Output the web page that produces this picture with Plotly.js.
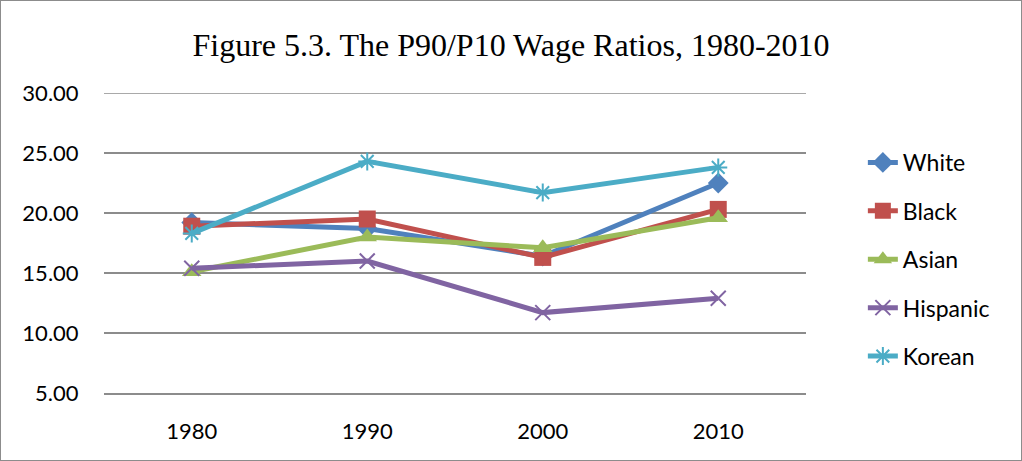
<!DOCTYPE html>
<html><head><meta charset="utf-8">
<script src="https://cdn.plot.ly/plotly-3.0.1.min.js"></script>
<style>html,body{margin:0;padding:0;background:#fff}
#wrap{width:1022px;height:461px;box-sizing:border-box;border:1px solid #8c8c8c;}
#chart{width:1020px;height:459px;}</style>
</head><body><div id="wrap"><div id="chart"></div></div>
<script>
const years = ["1980","1990","2000","2010"];
const white = [19.2, 18.7, 16.4, 22.5];
const black = [18.9, 19.5, 16.3, 20.3];
const asian = [15.1, 18.0, 17.1, 19.6];
const hispanic = [15.4, 16.0, 11.7, 12.9];
const korean = [18.3, 24.3, 21.7, 23.8];
const yMax = 30;

function tr(name, y, color, symbol, size, open, grp){
  return {x: years, y: y, name: name, type:'scatter', mode:'lines+markers',
    legendgroup: grp,
    line:{color:color, width:5},
    marker: open ? {symbol:symbol, size:size, color:color, line:{color:color, width:2}}
                 : {symbol:symbol, size:size, color:color}};
}
const data = [
  tr('White', white, '#4F81BD', 'diamond', 16, false, 'a'),
  tr('Black', black, '#C0504D', 'square', 17, false, 'b'),
  tr('Asian', asian, '#9BBB59', 'triangle-up', 17, false, 'c'),
  tr('Hispanic', hispanic, '#8064A2', 'x-thin-open', 15, true, 'd'),
  tr('Korean', korean, '#4BACC6', 'asterisk-open', 15, true, 'e')
];
const tickFont = {family:'Lato, Carlito, Calibri, sans-serif', size:22, color:'#000'};
const layout = {
  width:1020, height:459,
  margin:{l:103, r:215, t:92, b:67},
  paper_bgcolor:'#fff', plot_bgcolor:'#fff',
  title:{text:'Figure 5.3. The P90/P10 Wage Ratios, 1980-2010', x:0.5, xanchor:'center', y:0.905, yanchor:'middle',
    font:{family:'Liberation Serif, Times New Roman, serif', size:32, color:'#000'}},
  xaxis:{type:'category', range:[-0.5,3.5], showgrid:false, zeroline:false,
    showline:true, linecolor:'#8c8c8c', linewidth:1.5,
    ticks:'outside', ticklen:18, tickcolor:'rgba(0,0,0,0)', tickfont:tickFont},
  yaxis:{range:[5,yMax], dtick:5, tick0:5, tickformat:'.2f', showgrid:true, gridcolor:'#8c8c8c', gridwidth:1.5,
    zeroline:false, showline:false, ticks:'outside', ticklen:20, tickcolor:'rgba(0,0,0,0)', tickfont:tickFont},
  shapes:[{type:'line', xref:'paper', x0:0, x1:1, yref:'y', y0:yMax, y1:yMax, layer:'below',
    line:{color:'#8c8c8c', width:1.5}}],
  showlegend:true,
  legend:{x:1.081, xanchor:'left', y:0.84, yanchor:'top', tracegroupgap:15.5,
    font:{family:'Lato, Carlito, Calibri, sans-serif', size:23, color:'#000'}, bgcolor:'rgba(0,0,0,0)'}
};
Plotly.newPlot('chart', data, layout, {displayModeBar:false});
</script></body></html>
